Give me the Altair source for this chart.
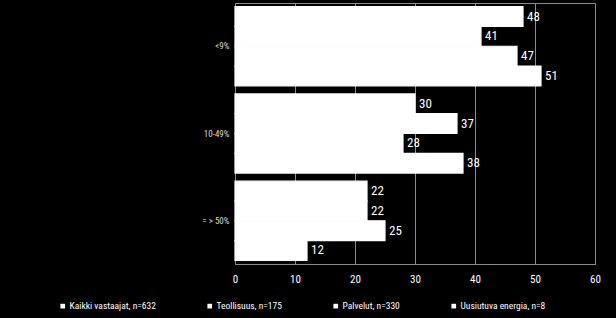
import altair as alt
import pandas as pd

categories = ["<9%", "10-49%", "= > 50%"]
series = ["Kaikki vastaajat, n=632", "Teollisuus, n=175", "Palvelut, n=330", "Uusiutuva energia, n=8"]
values = {
    "Kaikki vastaajat, n=632": [48, 30, 22],
    "Teollisuus, n=175": [41, 37, 22],
    "Palvelut, n=330": [47, 28, 25],
    "Uusiutuva energia, n=8": [51, 38, 12],
}
x_ticks = [0, 10, 20, 30, 40, 50, 60]

rows = []
for s in series:
    for c, v in zip(categories, values[s]):
        rows.append({"cat": c, "series": s, "value": v})
df = pd.DataFrame(rows)

FONT = "Roboto Condensed"
GRID = "#8c8c8c"

base = alt.Chart(df).encode(
    y=alt.Y("cat:N", sort=categories, title=None,
            scale=alt.Scale(paddingInner=0.092, paddingOuter=0.042),
            axis=alt.Axis(labelColor="#d9d9d9", labelFont=FONT, labelFontSize=9,
                          ticks=False, domain=False, labelPadding=6)),
    yOffset=alt.YOffset("series:N", sort=series, scale=alt.Scale(paddingInner=0, paddingOuter=0)),
)

bars = base.mark_bar(color="white", stroke="white", strokeWidth=1.2, strokeOpacity=1).encode(
    x=alt.X("value:Q", title=None,
            scale=alt.Scale(domain=[0, 60], nice=False),
            axis=alt.Axis(values=x_ticks, grid=True, gridColor=GRID, gridWidth=1,
                          domainColor=GRID, ticks=False, labelPadding=9, labelFlush=False,
                          labelColor="white", labelFont=FONT, labelFontSize=11)),
    color=alt.Color("series:N", sort=series,
                    scale=alt.Scale(domain=series, range=["white"] * 4),
                    legend=alt.Legend(title=None, orient="none", legendX=-177, legendY=298,
                                      direction="horizontal", columns=4, columnPadding=49,
                                      padding=0,
                                      symbolType="square", symbolSize=22, symbolStrokeWidth=0,
                                      labelColor="white", labelFont=FONT, labelFontSize=9.5,
                                      labelOffset=2)),
)

labels = base.mark_text(align="left", dx=4, color="white", font=FONT, fontSize=13).encode(
    x="value:Q",
    text="value:Q",
)

chart = (bars + labels).properties(
    width=360, height=261,
    background="black",
    padding={"left": 235, "top": 3, "right": 21, "bottom": 54},
    autosize=alt.AutoSizeParams(type="none"),
).configure_view(stroke=GRID, strokeWidth=1)

chart.save("out.html", embed_options={"renderer": "svg", "actions": False})
